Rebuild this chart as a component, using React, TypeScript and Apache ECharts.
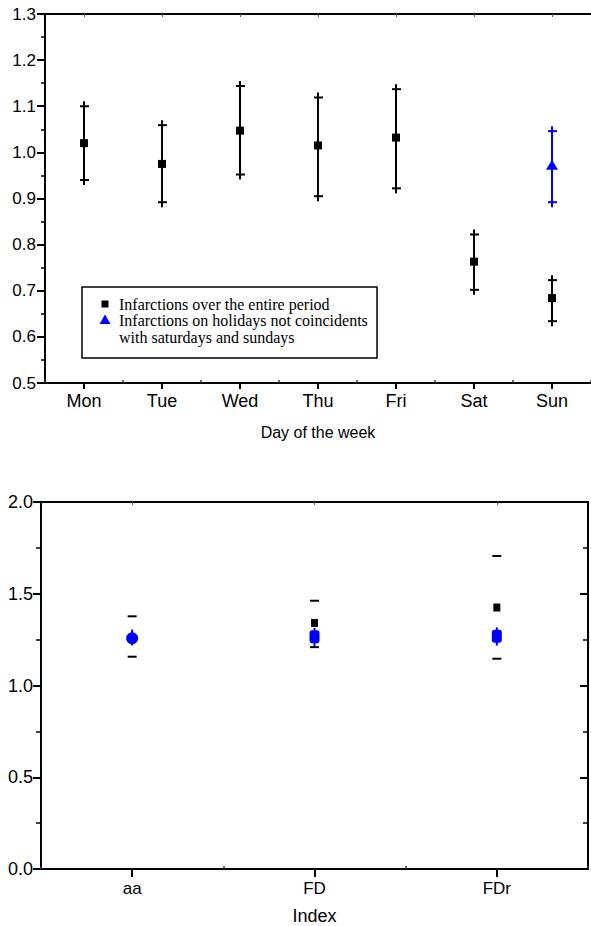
import React, { useEffect, useRef } from "react";
import * as echarts from "echarts";

// ---- Top chart data (relative risk by day of the week) ----
const days = ["Mon", "Tue", "Wed", "Thu", "Fri", "Sat", "Sun"];
const entireMean = [1.02, 0.975, 1.047, 1.015, 1.032, 0.763, 0.684];
const entireLow = [0.94, 0.892, 0.952, 0.905, 0.922, 0.702, 0.634];
const entireHigh = [1.1, 1.059, 1.144, 1.119, 1.137, 0.822, 0.723];
const holidayDays = ["Sun"];
const holidayMean = [0.973];
const holidayLow = [0.892];
const holidayHigh = [1.046];

// ---- Bottom chart data (index) ----
const indices = ["aa", "FD", "FDr"];
const blackMean = [1.26, 1.341, 1.425];
const blackLow = [1.157, 1.209, 1.146];
const blackHigh = [1.377, 1.462, 1.706];
const blueMean = [1.257, 1.265, 1.268];
const blueLow = [1.218, 1.214, 1.218];
const blueHigh = [1.305, 1.314, 1.317];

const legendLabels = [
  "Infarctions over the entire period",
  "Infarctions on holidays not coincidents",
  "with saturdays and sundays",
];

const SANS = "'Liberation Sans', Arial, Helvetica, sans-serif";
const SERIF = "'Liberation Serif', 'Times New Roman', serif";
const BLUE = "#0000ff";

function plusBars(color: string) {
  return (params: any, api: any) => {
    const x = api.value(0);
    const lo = api.coord([x, api.value(1)]);
    const hi = api.coord([x, api.value(2)]);
    const cx = lo[0];
    const st = { stroke: color, lineWidth: 2 };
    return {
      type: "group",
      children: [
        { type: "line", shape: { x1: cx, y1: hi[1] - 5, x2: cx, y2: lo[1] + 5 }, style: st },
        { type: "line", shape: { x1: cx - 4, y1: hi[1], x2: cx + 5, y2: hi[1] }, style: st },
        { type: "line", shape: { x1: cx - 4, y1: lo[1], x2: cx + 5, y2: lo[1] }, style: st },
      ],
    };
  };
}

function dashBars(color: string) {
  return (params: any, api: any) => {
    const x = api.value(0);
    const lo = api.coord([x, api.value(1)]);
    const hi = api.coord([x, api.value(2)]);
    const cx = lo[0];
    const st = { stroke: color, lineWidth: 2 };
    return {
      type: "group",
      children: [
        { type: "line", shape: { x1: cx - 4.5, y1: hi[1], x2: cx + 4.5, y2: hi[1] }, style: st },
        { type: "line", shape: { x1: cx - 4.5, y1: lo[1], x2: cx + 4.5, y2: lo[1] }, style: st },
      ],
    };
  };
}

function vertBars(color: string) {
  return (params: any, api: any) => {
    const x = api.value(0);
    const lo = api.coord([x, api.value(1)]);
    const hi = api.coord([x, api.value(2)]);
    return {
      type: "line",
      shape: { x1: lo[0], y1: hi[1], x2: lo[0], y2: lo[1] },
      style: { stroke: color, lineWidth: 2 },
    };
  };
}

export default function App() {
  const ref = useRef<HTMLDivElement>(null);

  useEffect(() => {
    if (!ref.current) return;
    const chart = echarts.init(ref.current, null, { renderer: "svg" });

    const axisLine = { show: true, onZero: false, lineStyle: { color: "#000", width: 2 } };
    const tickStyle = { color: "#000", width: 2 };

    const option: any = {
      animation: false,
      backgroundColor: "#fff",
      grid: [
        { left: 45, top: 14, width: 548, height: 369 },
        { left: 41, top: 502, width: 547, height: 368 },
      ],
      xAxis: [
        {
          gridIndex: 0,
          type: "category",
          data: days,
          position: "bottom",
          boundaryGap: true,
          axisLine,
          axisTick: { show: true, alignWithLabel: true, length: 6, lineStyle: tickStyle },
          axisLabel: { color: "#000", fontSize: 18, fontFamily: SANS, margin: 9 },
          name: "Day of the week",
          nameLocation: "middle",
          nameGap: 41,
          nameTextStyle: { color: "#000", fontSize: 16, fontFamily: SANS },
          splitLine: { show: false },
        },
        {
          gridIndex: 0,
          type: "category",
          data: days,
          position: "top",
          axisLine,
          axisTick: { show: true, alignWithLabel: true, inside: true, length: 3, lineStyle: { color: "#555", width: 1 } },
          axisLabel: { show: false },
          splitLine: { show: false },
        },
        {
          gridIndex: 0,
          type: "value",
          min: 0,
          max: 7,
          interval: 1,
          position: "bottom",
          axisLine: { show: false },
          axisTick: { show: true, inside: true, length: 3, lineStyle: { color: "#333", width: 1.5 } },
          axisLabel: { show: false },
          splitLine: { show: false },
        },
        {
          gridIndex: 1,
          type: "category",
          data: indices,
          position: "bottom",
          boundaryGap: true,
          axisLine,
          axisTick: { show: true, alignWithLabel: true, length: 8, lineStyle: tickStyle },
          axisLabel: { color: "#000", fontSize: 17, fontFamily: SANS, margin: 11 },
          name: "Index",
          nameLocation: "middle",
          nameGap: 38,
          nameTextStyle: { color: "#000", fontSize: 18, fontFamily: SANS },
          splitLine: { show: false },
        },
        {
          gridIndex: 1,
          type: "category",
          data: indices,
          position: "top",
          axisLine,
          axisTick: { show: true, alignWithLabel: true, inside: true, length: 3, lineStyle: { color: "#555", width: 1 } },
          axisLabel: { show: false },
          splitLine: { show: false },
        },
        {
          gridIndex: 1,
          type: "value",
          min: 0,
          max: 3,
          interval: 1,
          position: "bottom",
          axisLine: { show: false },
          axisTick: { show: true, inside: true, length: 3, lineStyle: { color: "#333", width: 1.5 } },
          axisLabel: { show: false },
          splitLine: { show: false },
        },
      ],
      yAxis: [
        {
          gridIndex: 0,
          type: "value",
          min: 0.5,
          max: 1.3,
          interval: 0.1,
          position: "left",
          axisLine,
          axisTick: { show: true, length: 8, lineStyle: tickStyle },
          minorTick: { show: true, splitNumber: 2, length: 4, lineStyle: { color: "#000", width: 1.5 } },
          axisLabel: {
            color: "#000",
            fontSize: 17,
            fontFamily: SANS,
            margin: 9,
            formatter: (v: number) => v.toFixed(1),
          },
          splitLine: { show: false },
        },
        {
          gridIndex: 1,
          type: "value",
          min: 0,
          max: 2,
          interval: 0.5,
          position: "left",
          axisLine,
          axisTick: { show: true, length: 8, lineStyle: tickStyle },
          minorTick: { show: true, splitNumber: 2, length: 5, lineStyle: { color: "#000", width: 1.5 } },
          axisLabel: {
            color: "#000",
            fontSize: 18,
            fontFamily: SANS,
            margin: 8,
            formatter: (v: number) => v.toFixed(1),
          },
          splitLine: { show: false },
        },
        {
          gridIndex: 1,
          type: "value",
          min: 0,
          max: 2,
          interval: 0.5,
          position: "right",
          axisLine,
          axisTick: { show: true, inside: true, length: 8, lineStyle: tickStyle },
          minorTick: { show: true, splitNumber: 2, length: 5, lineStyle: { color: "#000", width: 1.5 } },
          axisLabel: { show: false },
          splitLine: { show: false },
        },
      ],
      series: [
        {
          type: "custom",
          name: "entire-err",
          xAxisIndex: 0,
          yAxisIndex: 0,
          renderItem: plusBars("#000"),
          encode: { x: 0, y: [1, 2] },
          data: days.map((_, i) => [i, entireLow[i], entireHigh[i]]),
          z: 2,
        },
        {
          type: "scatter",
          name: legendLabels[0],
          xAxisIndex: 0,
          yAxisIndex: 0,
          symbol: "rect",
          symbolSize: [8, 8],
          itemStyle: { color: "#000", opacity: 1 },
          data: days.map((d, i) => [i, entireMean[i]]),
          z: 3,
        },
        {
          type: "custom",
          name: "holiday-err",
          xAxisIndex: 0,
          yAxisIndex: 0,
          renderItem: plusBars(BLUE),
          encode: { x: 0, y: [1, 2] },
          data: holidayDays.map((d, i) => [days.indexOf(d), holidayLow[i], holidayHigh[i]]),
          z: 2,
        },
        {
          type: "scatter",
          name: legendLabels[1],
          xAxisIndex: 0,
          yAxisIndex: 0,
          symbol: "triangle",
          symbolSize: [12, 10],
          itemStyle: { color: BLUE, opacity: 1 },
          data: holidayDays.map((d, i) => [days.indexOf(d), holidayMean[i]]),
          z: 3,
        },
        // bottom chart
        {
          type: "custom",
          name: "black-ci",
          xAxisIndex: 3,
          yAxisIndex: 1,
          renderItem: dashBars("#000"),
          encode: { x: 0, y: [1, 2] },
          data: indices.map((_, i) => [i, blackLow[i], blackHigh[i]]),
          z: 2,
        },
        {
          type: "scatter",
          name: "black-mean",
          xAxisIndex: 3,
          yAxisIndex: 1,
          symbol: "rect",
          symbolSize: [7, 8],
          itemStyle: { color: "#000", opacity: 1 },
          data: indices.map((_, i) => [i, blackMean[i]]),
          z: 3,
        },
        {
          type: "custom",
          name: "blue-ci",
          xAxisIndex: 3,
          yAxisIndex: 1,
          renderItem: vertBars(BLUE),
          encode: { x: 0, y: [1, 2] },
          data: indices.map((_, i) => [i, blueLow[i], blueHigh[i]]),
          z: 4,
        },
        {
          type: "scatter",
          name: "blue-mean",
          xAxisIndex: 3,
          yAxisIndex: 1,
          itemStyle: { color: BLUE, opacity: 1 },
          data: indices.map((_, i) =>
            i === 0
              ? { value: [i, blueMean[i]], symbol: "circle", symbolSize: 12 }
              : { value: [i, blueMean[i]], symbol: "roundRect", symbolSize: [10, 13] }
          ),
          z: 5,
        },
      ],
      graphic: [
        {
          type: "rect",
          shape: { x: 82, y: 287, width: 295, height: 71 },
          style: { fill: "#fff", stroke: "#000", lineWidth: 1.5 },
          z: 10,
        },
        {
          type: "rect",
          shape: { x: 101.5, y: 300.5, width: 7, height: 7 },
          style: { fill: "#000" },
          z: 11,
        },
        {
          type: "polygon",
          shape: { points: [[105, 314.5], [99.5, 324], [110.5, 324]] },
          style: { fill: BLUE },
          z: 11,
        },
        {
          type: "text",
          x: 119,
          y: 304,
          style: { text: legendLabels[0], font: `16px ${SERIF}`, fill: "#000", verticalAlign: "middle" },
          z: 11,
        },
        {
          type: "text",
          x: 119,
          y: 320.5,
          style: { text: legendLabels[1], font: `16px ${SERIF}`, fill: "#000", verticalAlign: "middle" },
          z: 11,
        },
        {
          type: "text",
          x: 119,
          y: 337,
          style: { text: legendLabels[2], font: `16px ${SERIF}`, fill: "#000", verticalAlign: "middle" },
          z: 11,
        },
      ],
    };

    chart.setOption(option);
    return () => chart.dispose();
  }, []);

  return (
    <div
      ref={ref}
      style={{ position: "fixed", left: 0, top: 0, width: 591, height: 926, background: "#fff" }}
    />
  );
}
